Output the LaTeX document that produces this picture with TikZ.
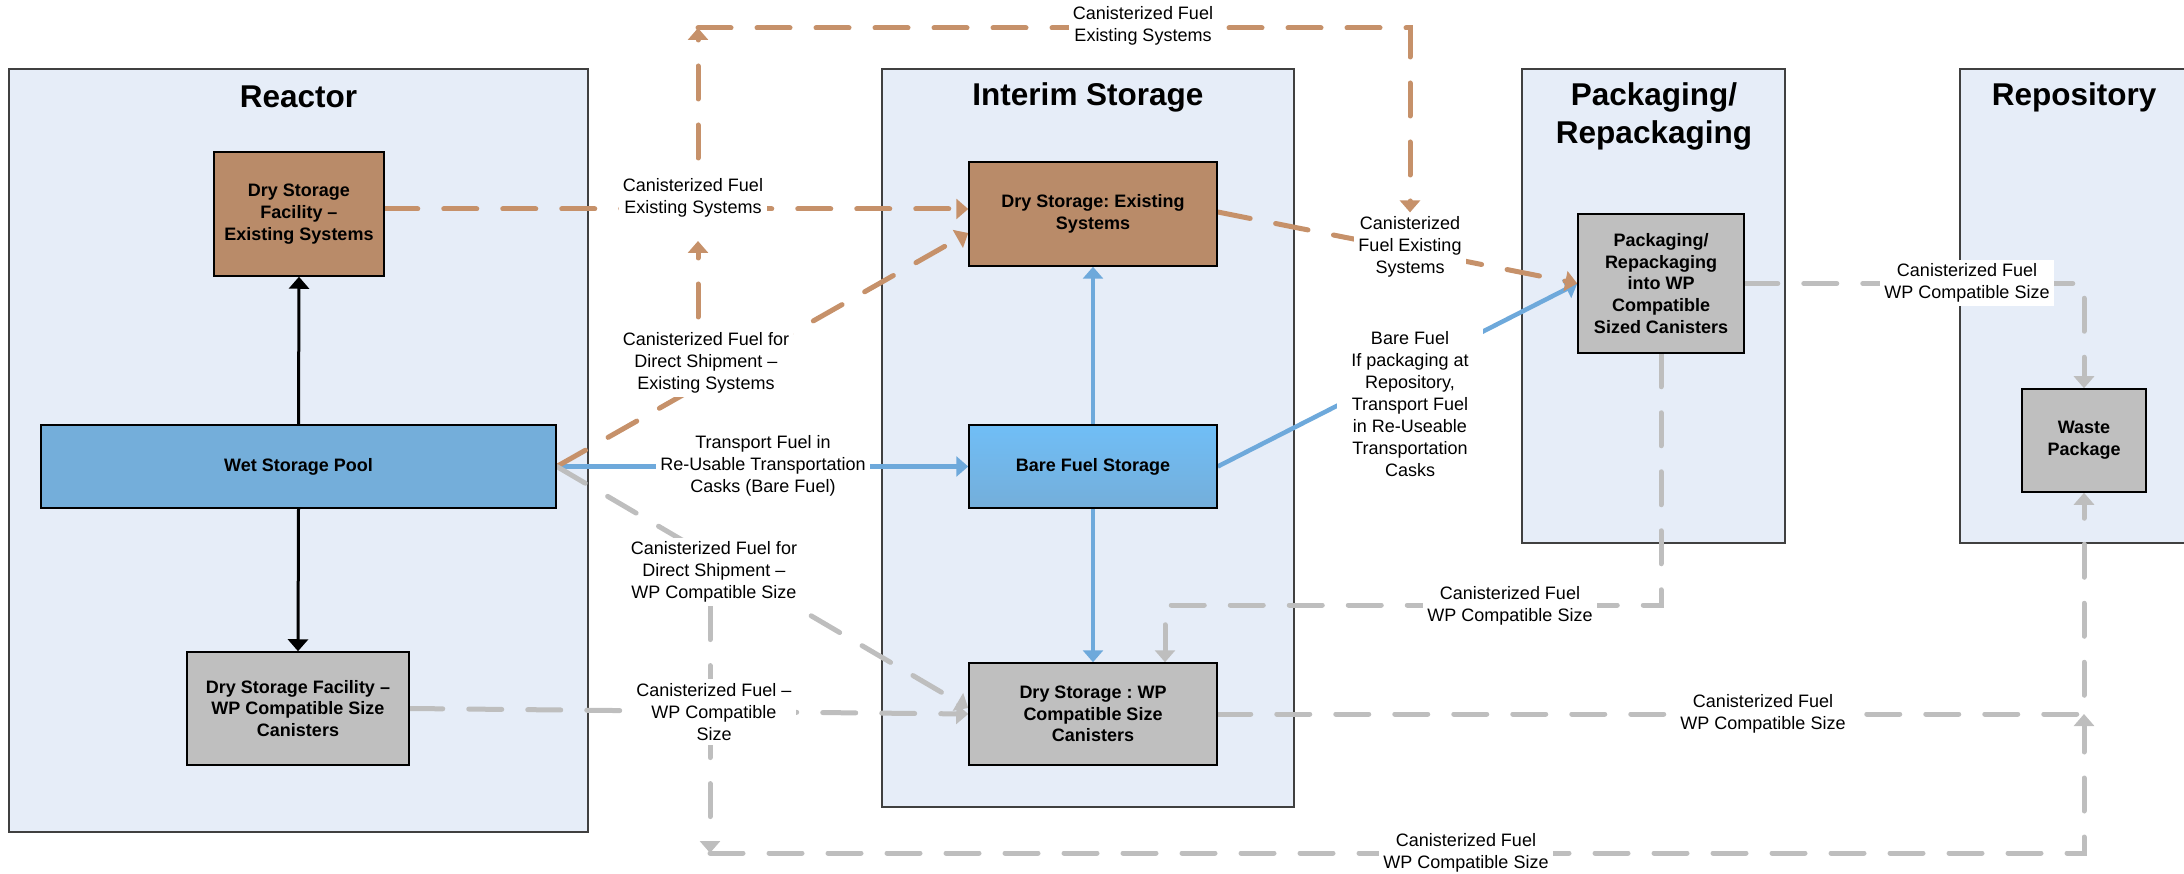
\documentclass[tikz,border=0pt]{standalone}
\usepackage{fontspec}
\setmainfont{Liberation Sans}
\usetikzlibrary{positioning,calc,arrows.meta}
\frenchspacing

\definecolor{panelfill}{HTML}{E6EDF8}
\definecolor{brownfill}{HTML}{B98B69}
\definecolor{brownline}{HTML}{C6916A}
\definecolor{greyfill}{HTML}{BFBFBF}
\definecolor{greyline}{HTML}{BEBEBE}
\definecolor{poolfill}{HTML}{74AEDA}
\definecolor{baretop}{HTML}{70BEF6}
\definecolor{blueline}{HTML}{6EA9DB}

\pgfdeclarelayer{panels}
\pgfdeclarelayer{flows}
\pgfsetlayers{panels,flows,main}

\tikzset{
  panel/.style={draw=black!75, line width=1.5pt, fill=panelfill, inner sep=0pt},
  paneltitle/.style={font=\fontsize{31.5}{38}\selectfont\bfseries, align=center},
  box/.style={draw=black, line width=1.5pt, font=\fontsize{18}{21.7}\selectfont\bfseries, align=center, inner sep=0pt},
  brownbox/.style={box, fill=brownfill},
  greybox/.style={box, fill=greyfill},
  poolbox/.style={box, fill=poolfill},
  flowlabel/.style={fill=white, font=\fontsize{18}{22}\selectfont, align=center, inner xsep=4pt, inner ysep=4pt},
  tip/.style={-{Triangle[width=20pt,length=12pt]}},
  dashflow/.style={line width=5pt, line cap=round, dash pattern=on 33pt off 26pt},
  brownflow/.style={dashflow, draw=brownline},
  greyflow/.style={dashflow, draw=greyline},
  blueflow/.style={line width=4.5pt, draw=blueline},
  blackflow/.style={line width=3pt, draw=black},
}

\begin{document}
\begin{tikzpicture}[x=1pt, y=-1pt]
    \useasboundingbox (0,0) rectangle (2184,874);

    % Panels
    \begin{pgfonlayer}{panels}
    \node[panel, minimum width=579pt, minimum height=763pt] (reactor) at (298.5,450.5) {};
    \node[panel, minimum width=412pt, minimum height=738pt] (interim) at (1088,438) {};
    \node[panel, minimum width=263pt, minimum height=474pt] (packaging) at (1653.5,306) {};
    \node[panel, minimum width=230pt, minimum height=474pt] (repository) at (2075,306) {};
    \end{pgfonlayer}
    \node[paneltitle] (reactorTitle) at (298.5,97) {Reactor};
    \node[paneltitle] (interimTitle) at (1088,97) {Interim Storage};
    \node[paneltitle] (packagingTitle) at (1654,116) {Packaging/\\Repackaging};
    \node[paneltitle] (repositoryTitle) at (2074,97) {Repository};

    % Boxes
    \node[brownbox, minimum width=170pt, minimum height=124pt] (dsfExist) at (299,214) {Dry Storage\\Facility –\\Existing Systems};
    \node[poolbox, minimum width=515pt, minimum height=83pt] (wetPool) at (298.5,466.5) {Wet Storage Pool};
    \node[greybox, minimum width=222pt, minimum height=113pt] (dsfWP) at (298,708.5) {Dry Storage Facility –\\WP Compatible Size\\Canisters};
    \node[brownbox, minimum width=248pt, minimum height=104pt] (dsExist) at (1093,214) {Dry Storage: Existing\\Systems};
    \node[box, top color=baretop, bottom color=poolfill, minimum width=248pt, minimum height=83pt] (bareFuel) at (1093,466.5) {Bare Fuel Storage};
    \node[greybox, minimum width=248pt, minimum height=102pt] (dsWP) at (1093,714) {Dry Storage : WP\\Compatible Size\\Canisters};
    \node[greybox, minimum width=166pt, minimum height=139pt] (repack) at (1661,283.5) {Packaging/\\Repackaging\\into WP\\Compatible\\Sized Canisters};
    \node[greybox, minimum width=124pt, minimum height=103pt] (waste) at (2084,440.5) {Waste\\Package};

    % Labels
    \node[flowlabel] (lblCanExist) at (693,198) {Canisterized Fuel\\Existing Systems};
    \node[flowlabel] (lblDirExist) at (706,363) {Canisterized Fuel for\\Direct Shipment –\\Existing Systems};
    \node[flowlabel] (lblTransport) at (763,466) {Transport Fuel in\\Re-Usable Transportation\\Casks (Bare Fuel)};
    \node[flowlabel] (lblDirWP) at (714,572) {Canisterized Fuel for\\Direct Shipment –\\WP Compatible Size};
    \node[flowlabel] (lblCanWP) at (714,712) {Canisterized Fuel –\\WP Compatible\\Size};
    \node[flowlabel] (lblTop) at (1143,26) {Canisterized Fuel\\Existing Systems};
    \node[flowlabel] (lblPackExist) at (1410,247) {Canisterized\\Fuel Existing\\Systems};
    \node[flowlabel, inner xsep=14pt] (lblBare) at (1410,404) {Bare Fuel\\If packaging at\\Repository,\\Transport Fuel\\in Re-Useable\\Transportation\\Casks};
    \node[flowlabel] (lblRepack) at (1510,606) {Canisterized Fuel\\WP Compatible Size};
    \node[flowlabel] (lblToWaste) at (1967,283) {Canisterized Fuel\\WP Compatible Size};
    \node[flowlabel] (lblMidWaste) at (1763,714) {Canisterized Fuel\\WP Compatible Size};
    \node[flowlabel] (lblBottom) at (1466,853) {Canisterized Fuel\\WP Compatible Size};

    % Corners of the long routes
    \coordinate (upStart) at (698,317);
    \coordinate (upEnd) at (698,241);
    \coordinate (upResume) at (698,158);
    \coordinate (cornerTL) at (698,28);
    \coordinate (cornerBL) at (710,853);
    \coordinate (repackTurn) at (1165,605);

    \begin{pgfonlayer}{flows}
    % Reactor
    \draw[blackflow, tip] (wetPool.north) -- (dsfExist.south);
    \draw[blackflow, tip] (wetPool.south) -- (dsfWP.north);

    % Bare fuel
    \draw[blueflow, tip] (wetPool.east) -- (bareFuel.west);
    \draw[blueflow, tip] (bareFuel.north) -- (dsExist.south);
    \draw[blueflow, tip] (bareFuel.south) -- (dsWP.north);
    \draw[blueflow, tip] (bareFuel.east) -- (repack.west);

    % Existing systems
    \draw[brownflow, tip] ([yshift=5pt]dsfExist.east) -- ([yshift=5pt]dsExist.west);
    \draw[brownflow, tip] (wetPool.east) -- ([yshift=-19pt]dsExist.west);
    \draw[brownflow, tip] ([yshift=2pt]dsExist.east) -- (repack.west);
    \draw[brownflow, tip] (upStart) -- (upEnd);
    \draw[brownflow, tip] (upResume) -- (cornerTL);
    \draw[brownflow, tip] (cornerTL) -- (cornerTL -| lblPackExist.north) -- (lblPackExist.north);

    % WP compatible size
    \draw[greyflow, tip] (dsfWP.east) -- (dsWP.west);
    \draw[greyflow, tip] (wetPool.east) -- ([yshift=6pt]dsWP.west);
    \draw[greyflow, tip] (lblDirWP.south -| cornerBL) -- (cornerBL);
    \draw[greyflow, tip] (cornerBL) -- (cornerBL -| waste.south) -- (waste.south |- dsWP.east);
    \draw[greyflow, tip] (dsWP.east) -| (waste.south);
    \draw[greyflow, tip] (repack.east) -| (waste.north);
    \draw[greyflow, tip] (repack.south) |- (repackTurn) -- (repackTurn |- dsWP.north);
    \end{pgfonlayer}
\end{tikzpicture}
\end{document}
